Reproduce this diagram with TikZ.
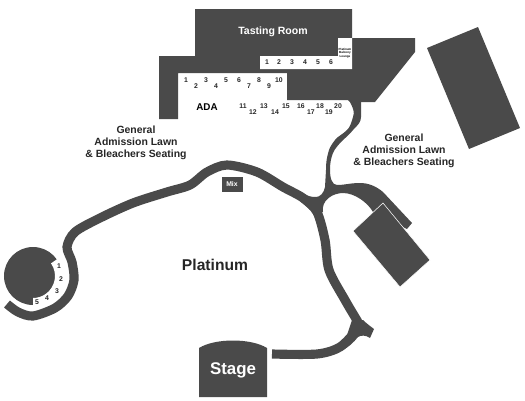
\documentclass[tikz,border=0pt]{standalone}
\usepackage{fontspec}
\setmainfont{Liberation Sans}
\definecolor{venue}{HTML}{4A4A4A}
\tikzset{
block/.style={fill=venue,draw=none},
road/.style={draw=venue,line width=5.2pt,line cap=butt},
area/.style={font=\fontsize{5.95}{7}\selectfont\bfseries,align=center,text=black!85},
seat/.style={font=\fontsize{3.9}{4}\selectfont\bfseries,inner sep=0pt,text=black!85}
}
\begin{document}
\begin{tikzpicture}[x=.02cm,y=-.02cm]
\useasboundingbox (0,0) rectangle (525,400);
% buildings
\fill[block] (195,9)--(352,9)--(352,38)--(415,38)--(415,52)--(375,102)--(350,102)--(348,100)--(287,100)--(287,73)--(178,73)--(178,119)--(159,119)--(159,56)--(195,56)--cycle;
\fill[white] (260,56)--(338,56)--(338,38)--(352,38)--(352,69)--(260,69)--cycle;
\fill[block] (427,48)--(478,27)--(520,128)--(469,149)--cycle;
\fill[block] (222,177) rectangle (243,192);
% seats at the side
\fill[block] (33,276) circle (29);
\fill[white] (33,276) ++(-35:22) arc (-35:90:22)--++(0,11) arc (90:-35:33)--cycle;
% roads
\draw[road] plot[smooth] coordinates {(7,304)(18,312)(33,316)(55,308)(68,296)(74,280)(72,262)(67,247)(75,232)(100,218)(133,203)(167,192)(190,185)(207,172)(227,165)(257,172)(283,187)(303,198)(317,212)(325,240)(329,270)(345,300)(358,322)};
\draw[road] plot[smooth] coordinates {(272,354)(317,354)(340,347)(356,331)};
\fill[block] (350,102) .. controls (353,108) and (355,112) .. (353,117) .. controls (351,124) and (350,127) .. (347,130) .. controls (342,135) and (338,136) .. (335,140) .. controls (332,144) and (330,147) .. (329,150) .. controls (326,160) and (326,165) .. (326,170)--(325,187) .. controls (324,193) and (320,197) .. (316,197) .. controls (311,197) and (307,196) .. (303,193)--(300,201)--(316,215)--(323,212) .. controls (321,200) and (333,193) .. (343,193) .. controls (355,193) and (368,203) .. (373,212)--(407,229)--(412,223)--(383,192) .. controls (376,186) and (368,183) .. (360,183) .. controls (350,183) and (345,185) .. (337,185) .. controls (332,185) and (330,178) .. (330,170) .. controls (330,163) and (331,158) .. (333,153) .. controls (335,148) and (338,146) .. (340,143) .. controls (345,138) and (350,134) .. (353,130) .. controls (358,125) and (361,122) .. (361,117)--(361,102)--cycle;
\fill[block] (352,320)--(363,320) .. controls (366,323) and (370,326) .. (374,329)--(370,338) .. controls (366,335) and (361,335) .. (358,337) .. controls (354,342) and (348,348) .. (342,350)--cycle;
% stage
\fill[block] (199,348) .. controls (215,338) and (251,338) .. (267,348)--(267,397)--(199,397)--cycle;
\fill[block,draw=white,line width=.3pt] (383,203)--(430,260)--(400,287)--(353,231)--cycle;
% labels
\node[font=\fontsize{6}{7}\selectfont\bfseries,text=white] (tasting) at (273,32) {Tasting Room};
\node[font=\fontsize{1.7}{2}\selectfont\bfseries,align=center] (lounge) at (345,53) {Platinum\\Balcony\\Lounge};
\node[font=\fontsize{5.6}{7}\selectfont\bfseries] (ada) at (207,107) {ADA};
\node[font=\fontsize{8.9}{10}\selectfont\bfseries,text=black!85] (platinum) at (215,265) {Platinum};
\node[font=\fontsize{9.6}{10}\selectfont\bfseries,text=white] (stage) at (233,370) {Stage};
\node[font=\fontsize{3.9}{4}\selectfont\bfseries,text=white,inner sep=0pt] (mix) at (232,184) {Mix};
\node[area] (lawnleft) at (136,143) {General\\Admission Lawn\\\& Bleachers Seating};
\node[area] (lawnright) at (404,151) {General\\Admission Lawn\\\& Bleachers Seating};
\foreach \n/\x in {1/267,2/279,3/292,4/305,5/318,6/331}
\node[seat] (balcony\n) at (\x,62) {\n};
\foreach \n/\x/\y in {1/186/80,2/196/86,3/206/80,4/216/86,5/226/80,6/239/80,7/249/86,8/259/80,9/269/86,10/279/80,11/243/106,12/253/112,13/264/106,14/275/112,15/286/106,16/301/106,17/311/112,18/320/106,19/329/112,20/338/106}
\node[seat] (ada\n) at (\x,\y) {\n};
\foreach \n/\x/\y in {1/59/266,2/61/279,3/57/291,4/47/298,5/37/302}
\node[seat] (side\n) at (\x,\y) {\n};
\end{tikzpicture}
\end{document}
